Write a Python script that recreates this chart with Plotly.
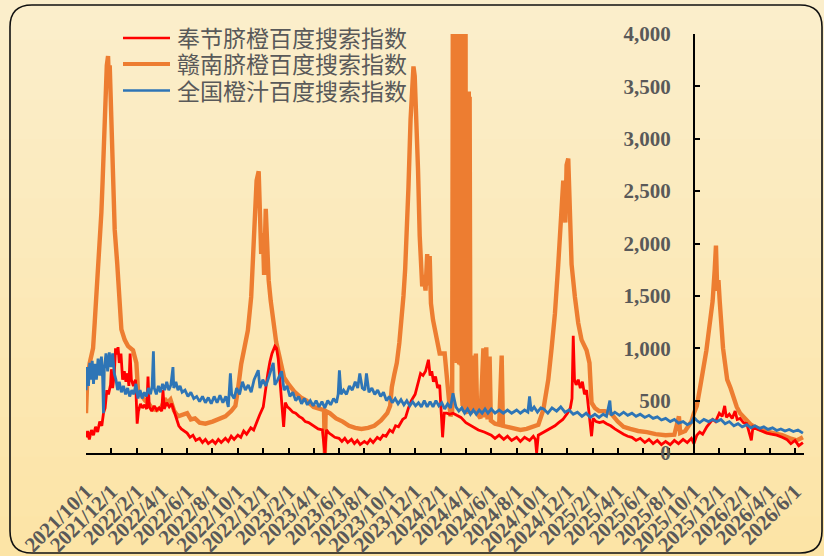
import plotly.graph_objects as go
from datetime import datetime

# ---------------- data ----------------
series_names = ["奉节脐橙百度搜索指数", "赣南脐橙百度搜索指数", "全国橙汁百度搜索指数"]
series_colors = ["#FF0000", "#ED7D31", "#2E75B6"]

fengjie = [
    ("2021-10-01", 150), ("2021-10-05", 210), ("2021-10-09", 130), ("2021-10-14", 220),
    ("2021-10-19", 170), ("2021-10-24", 250), ("2021-10-29", 200), ("2021-11-03", 300),
    ("2021-11-08", 260), ("2021-11-12", 380), ("2021-11-16", 430), ("2021-11-20", 600),
    ("2021-11-24", 560), ("2021-11-29", 650), ("2021-12-01", 800), ("2021-12-04", 620),
    ("2021-12-08", 750), ("2021-12-11", 1000), ("2021-12-14", 940), ("2021-12-17", 1010),
    ("2021-12-20", 860), ("2021-12-24", 950), ("2021-12-28", 700), ("2022-01-01", 780),
    ("2022-01-05", 680), ("2022-01-09", 760), ("2022-01-12", 640), ("2022-01-15", 950),
    ("2022-01-18", 700), ("2022-01-23", 640), ("2022-01-28", 700), ("2022-02-01", 280),
    ("2022-02-04", 400), ("2022-02-09", 470), ("2022-02-14", 430), ("2022-02-19", 460),
    ("2022-02-24", 420), ("2022-02-27", 730), ("2022-03-02", 440), ("2022-03-08", 400),
    ("2022-03-14", 450), ("2022-03-20", 410), ("2022-03-26", 430), ("2022-04-01", 400),
    ("2022-04-04", 600), ("2022-04-07", 420), ("2022-04-13", 480), ("2022-04-19", 440),
    ("2022-04-25", 470), ("2022-05-01", 400), ("2022-05-06", 330), ("2022-05-12", 260),
    ("2022-05-18", 230), ("2022-05-25", 210), ("2022-06-01", 190), ("2022-06-08", 150),
    ("2022-06-15", 170), ("2022-06-22", 120), ("2022-07-01", 140), ("2022-07-08", 100),
    ("2022-07-15", 130), ("2022-07-22", 90), ("2022-08-01", 120), ("2022-08-08", 90),
    ("2022-08-15", 130), ("2022-08-22", 100), ("2022-09-01", 140), ("2022-09-08", 110),
    ("2022-09-15", 160), ("2022-09-22", 130), ("2022-10-01", 170), ("2022-10-08", 150),
    ("2022-10-15", 210), ("2022-10-22", 180), ("2022-11-01", 240), ("2022-11-08", 220),
    ("2022-11-15", 300), ("2022-11-22", 360), ("2022-12-01", 440), ("2022-12-06", 600),
    ("2022-12-12", 760), ("2022-12-17", 870), ("2022-12-22", 950), ("2022-12-29", 1020),
    ("2023-01-02", 1000), ("2023-01-06", 900), ("2023-01-10", 720), ("2023-01-15", 500),
    ("2023-01-19", 250), ("2023-01-23", 480), ("2023-01-28", 440), ("2023-02-03", 420),
    ("2023-02-10", 390), ("2023-02-17", 380), ("2023-02-25", 350), ("2023-03-05", 330),
    ("2023-03-12", 300), ("2023-03-20", 290), ("2023-03-28", 270), ("2023-04-05", 250),
    ("2023-04-12", 230), ("2023-04-22", 220), ("2023-04-28", 0), ("2023-05-02", 220),
    ("2023-05-08", 190), ("2023-05-15", 170), ("2023-05-22", 150), ("2023-06-01", 140),
    ("2023-06-08", 110), ("2023-06-15", 140), ("2023-06-22", 100), ("2023-07-01", 130),
    ("2023-07-08", 90), ("2023-07-15", 120), ("2023-07-22", 80), ("2023-08-01", 110),
    ("2023-08-08", 90), ("2023-08-15", 130), ("2023-08-22", 100), ("2023-09-01", 150),
    ("2023-09-08", 130), ("2023-09-15", 170), ("2023-09-22", 160), ("2023-10-01", 220),
    ("2023-10-08", 200), ("2023-10-15", 260), ("2023-10-22", 250), ("2023-11-01", 320),
    ("2023-11-08", 340), ("2023-11-15", 430), ("2023-11-22", 500), ("2023-12-01", 560),
    ("2023-12-08", 680), ("2023-12-14", 760), ("2023-12-20", 740), ("2023-12-26", 780),
    ("2024-01-02", 890), ("2024-01-06", 740), ("2024-01-10", 780), ("2024-01-14", 680),
    ("2024-01-19", 730), ("2024-01-24", 620), ("2024-01-29", 650), ("2024-02-02", 400),
    ("2024-02-05", 150), ("2024-02-09", 380), ("2024-02-15", 380), ("2024-02-22", 370),
    ("2024-03-01", 380), ("2024-03-10", 360), ("2024-03-20", 340), ("2024-04-01", 290),
    ("2024-04-15", 260), ("2024-05-01", 220), ("2024-05-15", 200), ("2024-06-01", 170),
    ("2024-06-10", 140), ("2024-06-20", 170), ("2024-07-01", 130), ("2024-07-10", 160),
    ("2024-07-20", 120), ("2024-08-01", 150), ("2024-08-10", 110), ("2024-08-20", 150),
    ("2024-09-01", 120), ("2024-09-10", 160), ("2024-09-15", 130), ("2024-09-18", 0),
    ("2024-09-22", 170), ("2024-10-01", 190), ("2024-10-10", 210), ("2024-10-20", 230),
    ("2024-11-01", 260), ("2024-11-10", 290), ("2024-11-20", 320), ("2024-12-01", 380),
    ("2024-12-08", 430), ("2024-12-12", 520), ("2024-12-15", 1120), ("2024-12-18", 700),
    ("2024-12-22", 650), ("2024-12-27", 700), ("2025-01-01", 620), ("2025-01-06", 680),
    ("2025-01-11", 560), ("2025-01-16", 600), ("2025-01-22", 400), ("2025-01-28", 160),
    ("2025-02-01", 330), ("2025-02-08", 300), ("2025-02-16", 290), ("2025-02-25", 300),
    ("2025-03-05", 280), ("2025-03-15", 260), ("2025-03-25", 230), ("2025-04-05", 200),
    ("2025-04-15", 180), ("2025-04-25", 160), ("2025-05-05", 150), ("2025-05-15", 120),
    ("2025-05-25", 140), ("2025-06-05", 100), ("2025-06-15", 130), ("2025-06-25", 90),
    ("2025-07-05", 120), ("2025-07-15", 80), ("2025-07-25", 110), ("2025-08-05", 80),
    ("2025-08-15", 120), ("2025-08-25", 90), ("2025-09-05", 130), ("2025-09-15", 100),
    ("2025-09-25", 140), ("2025-10-01", 90), ("2025-10-08", 170), ("2025-10-15", 200),
    ("2025-10-22", 180), ("2025-11-01", 250), ("2025-11-08", 280), ("2025-11-15", 320),
    ("2025-11-22", 300), ("2025-12-01", 380), ("2025-12-08", 350), ("2025-12-14", 450),
    ("2025-12-18", 340), ("2025-12-25", 370), ("2026-01-01", 330), ("2026-01-08", 400),
    ("2026-01-13", 320), ("2026-01-20", 330), ("2026-01-28", 290), ("2026-02-05", 280),
    ("2026-02-16", 120), ("2026-02-20", 250), ("2026-03-01", 230), ("2026-03-12", 210),
    ("2026-03-25", 190), ("2026-04-05", 180), ("2026-04-18", 170), ("2026-05-01", 150),
    ("2026-05-12", 130), ("2026-05-22", 90), ("2026-06-01", 120), ("2026-06-10", 70),
    ("2026-06-20", 100),
]

gannan = [
    ("2021-10-01", 380), ("2021-10-04", 700), ("2021-10-10", 860), ("2021-10-14", 950),
    ("2021-10-18", 1000), ("2021-10-22", 1250), ("2021-10-26", 1500), ("2021-10-30", 1750),
    ("2021-11-03", 1970), ("2021-11-07", 2300), ("2021-11-10", 2600), ("2021-11-13", 3000),
    ("2021-11-16", 3400), ("2021-11-20", 3700), ("2021-11-23", 3790), ("2021-11-25", 3550),
    ("2021-11-27", 3700), ("2021-11-29", 3400), ("2021-12-01", 3020), ("2021-12-05", 2500),
    ("2021-12-09", 2130), ("2021-12-15", 1810), ("2021-12-21", 1490), ("2021-12-25", 1180),
    ("2022-01-02", 1080), ("2022-01-10", 1020), ("2022-01-22", 980), ("2022-01-30", 860),
    ("2022-02-03", 600), ("2022-02-12", 540), ("2022-02-20", 500), ("2022-03-01", 470),
    ("2022-03-10", 420), ("2022-03-20", 410), ("2022-04-01", 440), ("2022-04-08", 520),
    ("2022-04-15", 480), ("2022-04-22", 510), ("2022-05-01", 400), ("2022-05-10", 350),
    ("2022-05-20", 360), ("2022-06-01", 380), ("2022-06-10", 320), ("2022-06-20", 330),
    ("2022-07-01", 290), ("2022-07-15", 280), ("2022-08-01", 300), ("2022-08-15", 320),
    ("2022-09-01", 350), ("2022-09-15", 400), ("2022-09-25", 450), ("2022-10-01", 600),
    ("2022-10-09", 850), ("2022-10-17", 1010), ("2022-10-25", 1170), ("2022-11-02", 1490),
    ("2022-11-06", 1810), ("2022-11-10", 2290), ("2022-11-15", 2600), ("2022-11-20", 2690),
    ("2022-11-23", 2200), ("2022-11-26", 1900), ("2022-11-30", 2100), ("2022-12-03", 1700),
    ("2022-12-07", 2330), ("2022-12-10", 2000), ("2022-12-14", 1650), ("2022-12-19", 1450),
    ("2022-12-24", 1300), ("2023-01-01", 1060), ("2023-01-10", 900), ("2023-01-20", 720),
    ("2023-02-01", 650), ("2023-02-15", 580), ("2023-03-01", 530), ("2023-03-15", 500),
    ("2023-04-01", 440), ("2023-04-15", 420), ("2023-04-26", 410), ("2023-04-28", 0),
    ("2023-04-30", 400), ("2023-05-10", 380), ("2023-05-25", 330), ("2023-06-10", 300),
    ("2023-06-25", 260), ("2023-07-10", 240), ("2023-07-25", 230), ("2023-08-10", 240),
    ("2023-08-25", 260), ("2023-09-10", 310), ("2023-09-25", 380), ("2023-10-02", 450),
    ("2023-10-06", 630), ("2023-10-12", 750), ("2023-10-18", 860), ("2023-10-24", 1050),
    ("2023-10-30", 1270), ("2023-11-03", 1500), ("2023-11-07", 1750), ("2023-11-11", 2100),
    ("2023-11-15", 2540), ("2023-11-20", 3180), ("2023-11-24", 3550), ("2023-11-27", 3690),
    ("2023-11-30", 3600), ("2023-12-03", 3300), ("2023-12-08", 2700), ("2023-12-12", 2070),
    ("2023-12-15", 1800), ("2023-12-18", 1590), ("2023-12-22", 1700), ("2023-12-26", 1550),
    ("2023-12-30", 1900), ("2024-01-02", 1600), ("2024-01-05", 1880), ("2024-01-08", 1430),
    ("2024-01-13", 1270), ("2024-01-21", 1110), ("2024-01-29", 950), ("2024-02-10", 950),
    ("2024-02-18", 630), ("2024-02-24", 350), ("2024-02-28", 400),
    ("2024-03-01", 5200), ("2024-03-02", 920), ("2024-03-03", 5200), ("2024-03-04", 880),
    ("2024-03-05", 5200), ("2024-03-06", 950), ("2024-03-07", 5200), ("2024-03-08", 900),
    ("2024-03-09", 5200), ("2024-03-10", 860), ("2024-03-11", 5200), ("2024-03-12", 930),
    ("2024-03-13", 5200), ("2024-03-14", 890), ("2024-03-15", 5200), ("2024-03-16", 850),
    ("2024-03-17", 5200), ("2024-03-18", 870), ("2024-03-19", 5200), ("2024-03-20", 840),
    ("2024-03-21", 5200), ("2024-03-22", 600), ("2024-03-23", 5200), ("2024-03-24", 450),
    ("2024-03-25", 5200), ("2024-03-26", 420), ("2024-03-27", 5200), ("2024-03-28", 400),
    ("2024-03-29", 5200), ("2024-03-30", 430), ("2024-03-31", 5200), ("2024-04-01", 410),
    ("2024-04-02", 3450), ("2024-04-03", 390), ("2024-04-04", 3450), ("2024-04-05", 380),
    ("2024-04-06", 3450), ("2024-04-07", 400), ("2024-04-08", 3450), ("2024-04-09", 380),
    ("2024-04-10", 3400), ("2024-04-12", 380), ("2024-04-16", 400), ("2024-04-19", 930),
    ("2024-04-22", 420), ("2024-04-25", 950), ("2024-04-28", 380), ("2024-05-06", 330),
    ("2024-05-13", 1000), ("2024-05-16", 340), ("2024-05-20", 1010), ("2024-05-23", 320),
    ("2024-05-28", 920), ("2024-05-31", 310), ("2024-06-10", 280), ("2024-06-20", 270),
    ("2024-06-26", 930), ("2024-06-29", 260), ("2024-07-10", 250), ("2024-07-25", 230),
    ("2024-08-10", 220), ("2024-08-25", 230), ("2024-09-10", 250), ("2024-09-22", 270),
    ("2024-10-04", 410), ("2024-10-10", 550), ("2024-10-16", 700), ("2024-10-24", 1000),
    ("2024-11-01", 1330), ("2024-11-09", 1800), ("2024-11-15", 2290), ("2024-11-21", 2600),
    ("2024-11-26", 2200), ("2024-11-29", 2750), ("2024-12-03", 2810), ("2024-12-06", 2400),
    ("2024-12-08", 2000), ("2024-12-11", 1800), ("2024-12-19", 1490), ("2024-12-27", 1240),
    ("2025-01-04", 1080), ("2025-01-16", 980), ("2025-01-23", 860), ("2025-01-28", 480),
    ("2025-02-05", 430), ("2025-02-15", 400), ("2025-03-01", 400), ("2025-03-15", 380),
    ("2025-04-01", 300), ("2025-04-15", 250), ("2025-05-01", 230), ("2025-05-20", 210),
    ("2025-06-10", 200), ("2025-07-01", 180), ("2025-07-25", 170), ("2025-08-15", 175),
    ("2025-08-26", 350), ("2025-08-29", 190), ("2025-09-10", 210), ("2025-09-25", 300),
    ("2025-10-01", 380), ("2025-10-08", 450), ("2025-10-16", 630), ("2025-10-24", 800),
    ("2025-10-31", 980), ("2025-11-07", 1200), ("2025-11-15", 1450), ("2025-11-20", 1750),
    ("2025-11-23", 1980), ("2025-11-26", 1550), ("2025-11-29", 1650), ("2025-12-02", 1450),
    ("2025-12-06", 1200), ("2025-12-10", 1000), ("2025-12-15", 850), ("2025-12-20", 700),
    ("2025-12-28", 620), ("2026-01-05", 520), ("2026-01-12", 440), ("2026-01-20", 380),
    ("2026-02-01", 330), ("2026-02-15", 270), ("2026-03-01", 240), ("2026-03-20", 210),
    ("2026-04-10", 190), ("2026-05-01", 170), ("2026-05-20", 140), ("2026-06-05", 120),
    ("2026-06-20", 150),
]

juice = [
    ("2021-10-01", 600), ("2021-10-04", 820), ("2021-10-07", 640), ("2021-10-10", 860),
    ("2021-10-13", 700), ("2021-10-16", 880), ("2021-10-19", 660), ("2021-10-22", 850),
    ("2021-10-26", 700), ("2021-10-30", 900), ("2021-11-03", 740), ("2021-11-07", 920),
    ("2021-11-10", 720), ("2021-11-12", 380), ("2021-11-14", 800), ("2021-11-18", 950),
    ("2021-11-22", 780), ("2021-11-26", 960), ("2021-11-30", 820), ("2021-12-04", 950),
    ("2021-12-08", 760), ("2021-12-12", 700), ("2021-12-16", 600), ("2021-12-20", 680),
    ("2021-12-25", 580), ("2021-12-30", 640), ("2022-01-04", 560), ("2022-01-09", 620),
    ("2022-01-14", 540), ("2022-01-19", 600), ("2022-01-24", 560), ("2022-01-29", 660),
    ("2022-02-03", 520), ("2022-02-08", 600), ("2022-02-13", 520), ("2022-02-18", 580),
    ("2022-02-23", 540), ("2022-02-28", 620), ("2022-03-05", 560), ("2022-03-09", 640),
    ("2022-03-12", 970), ("2022-03-14", 620), ("2022-03-19", 560), ("2022-03-24", 640),
    ("2022-03-29", 580), ("2022-04-03", 660), ("2022-04-08", 600), ("2022-04-13", 680),
    ("2022-04-18", 600), ("2022-04-23", 650), ("2022-04-28", 820), ("2022-04-30", 620),
    ("2022-05-05", 680), ("2022-05-10", 600), ("2022-05-15", 640), ("2022-05-20", 580),
    ("2022-05-27", 600), ("2022-06-03", 540), ("2022-06-10", 580), ("2022-06-17", 520),
    ("2022-06-24", 540), ("2022-07-01", 490), ("2022-07-08", 540), ("2022-07-15", 480),
    ("2022-07-22", 530), ("2022-07-29", 470), ("2022-08-05", 540), ("2022-08-12", 480),
    ("2022-08-19", 550), ("2022-08-26", 480), ("2022-09-02", 540), ("2022-09-08", 440),
    ("2022-09-13", 760), ("2022-09-16", 560), ("2022-09-22", 520), ("2022-09-28", 620),
    ("2022-10-05", 560), ("2022-10-12", 680), ("2022-10-19", 600), ("2022-10-26", 650),
    ("2022-11-02", 580), ("2022-11-09", 700), ("2022-11-19", 790), ("2022-11-23", 620),
    ("2022-11-30", 700), ("2022-12-07", 640), ("2022-12-14", 720), ("2022-12-25", 860),
    ("2022-12-29", 650), ("2023-01-05", 700), ("2023-01-14", 780), ("2023-01-20", 600),
    ("2023-01-27", 640), ("2023-02-03", 540), ("2023-02-10", 580), ("2023-02-17", 500),
    ("2023-02-24", 540), ("2023-03-03", 470), ("2023-03-10", 520), ("2023-03-17", 460),
    ("2023-03-24", 500), ("2023-03-31", 450), ("2023-04-07", 500), ("2023-04-14", 440),
    ("2023-04-21", 490), ("2023-04-28", 430), ("2023-05-05", 500), ("2023-05-12", 460),
    ("2023-05-19", 520), ("2023-05-26", 480), ("2023-05-30", 560), ("2023-06-02", 790),
    ("2023-06-06", 560), ("2023-06-12", 600), ("2023-06-19", 560), ("2023-06-26", 640),
    ("2023-07-03", 600), ("2023-07-10", 680), ("2023-07-16", 620), ("2023-07-21", 760),
    ("2023-07-27", 620), ("2023-08-02", 600), ("2023-08-06", 760), ("2023-08-12", 580),
    ("2023-08-19", 620), ("2023-08-26", 560), ("2023-09-02", 600), ("2023-09-09", 540),
    ("2023-09-16", 580), ("2023-09-23", 500), ("2023-09-30", 540), ("2023-10-07", 480),
    ("2023-10-14", 520), ("2023-10-21", 470), ("2023-10-28", 510), ("2023-11-04", 460),
    ("2023-11-11", 500), ("2023-11-18", 450), ("2023-11-25", 490), ("2023-12-02", 450),
    ("2023-12-09", 480), ("2023-12-16", 440), ("2023-12-23", 500), ("2023-12-30", 440),
    ("2024-01-06", 490), ("2024-01-13", 440), ("2024-01-20", 500), ("2024-01-27", 450),
    ("2024-02-03", 480), ("2024-02-10", 420), ("2024-02-17", 470), ("2024-02-24", 430),
    ("2024-03-01", 570), ("2024-03-08", 440), ("2024-03-15", 400), ("2024-03-22", 430),
    ("2024-03-29", 380), ("2024-04-05", 420), ("2024-04-12", 370), ("2024-04-19", 410),
    ("2024-04-26", 370), ("2024-05-03", 410), ("2024-05-10", 380), ("2024-05-17", 420),
    ("2024-05-24", 380), ("2024-06-01", 420), ("2024-06-10", 380), ("2024-06-20", 410),
    ("2024-06-30", 380), ("2024-07-10", 410), ("2024-07-20", 380), ("2024-08-01", 410),
    ("2024-08-10", 380), ("2024-08-20", 410), ("2024-08-28", 390), ("2024-09-01", 540),
    ("2024-09-05", 400), ("2024-09-12", 440), ("2024-09-20", 390), ("2024-09-28", 430),
    ("2024-10-05", 420), ("2024-10-15", 380), ("2024-10-25", 430), ("2024-11-05", 400),
    ("2024-11-15", 440), ("2024-11-25", 390), ("2024-12-05", 410), ("2024-12-15", 370),
    ("2024-12-25", 390), ("2025-01-05", 350), ("2025-01-15", 380), ("2025-01-25", 340),
    ("2025-02-05", 370), ("2025-02-15", 340), ("2025-02-25", 370), ("2025-03-05", 350),
    ("2025-03-13", 500), ("2025-03-16", 360), ("2025-03-25", 390), ("2025-04-05", 360),
    ("2025-04-15", 390), ("2025-04-25", 360), ("2025-05-05", 380), ("2025-05-15", 350),
    ("2025-05-25", 370), ("2025-06-05", 340), ("2025-06-15", 360), ("2025-06-25", 330),
    ("2025-07-05", 345), ("2025-07-15", 315), ("2025-07-25", 330), ("2025-08-05", 300),
    ("2025-08-15", 320), ("2025-08-25", 285), ("2025-09-05", 300), ("2025-09-15", 270),
    ("2025-09-25", 290), ("2025-10-01", 340), ("2025-10-08", 310), ("2025-10-15", 290),
    ("2025-10-25", 320), ("2025-11-05", 300), ("2025-11-15", 320), ("2025-11-25", 300),
    ("2025-12-05", 320), ("2025-12-15", 280), ("2025-12-25", 300), ("2026-01-05", 260),
    ("2026-01-15", 280), ("2026-01-25", 250), ("2026-02-05", 270), ("2026-02-15", 240),
    ("2026-02-25", 260), ("2026-03-08", 235), ("2026-03-18", 250), ("2026-03-28", 225),
    ("2026-04-08", 240), ("2026-04-18", 215), ("2026-04-28", 230), ("2026-05-08", 210),
    ("2026-05-18", 225), ("2026-05-28", 205), ("2026-06-08", 220), ("2026-06-20", 190),
]

y_ticks = [0, 500, 1000, 1500, 2000, 2500, 3000, 3500, 4000]
x_start, x_end = "2021-10-01", "2026-06-22 14:00"
y_axis_cross_date = "2025-10-01"

# ---------------- layout geometry (pixels) ----------------
W, H = 824, 556
L, R, T, B = 86, 20, 34, 103
PW, PH = W - L - R, H - T - B


def px(x):
    return (x - L) / PW


def py(y):
    return (H - B - y) / PH


fig = go.Figure()
all_series = [fengjie, gannan, juice]
widths = [2.8, 4.4, 2.8]
# draw order: orange, red, blue
for idx in [1, 0, 2]:
    d, v = zip(*all_series[idx])
    fig.add_trace(go.Scatter(
        x=list(d), y=list(v), mode="lines", name=series_names[idx],
        line=dict(color=series_colors[idx], width=widths[idx]),
        showlegend=False, hoverinfo="skip",
    ))

shapes = []
# background vertical gradient bands
top_c = (251, 238, 203)
bot_c = (252, 228, 166)
nb = 28
for i in range(nb):
    f = i / (nb - 1)
    c = tuple(round(top_c[k] + (bot_c[k] - top_c[k]) * f) for k in range(3))
    y0 = i * H / nb
    y1 = (i + 1) * H / nb + 1
    shapes.append(dict(type="rect", xref="paper", yref="paper", layer="below",
                       x0=px(0), x1=px(W), y0=py(y1), y1=py(y0),
                       line=dict(width=0), fillcolor="rgb(%d,%d,%d)" % c))

# rounded border
bl, br, bt, bb, rr = 10, 822, 5, 553, 22
path = (f"M {px(bl+rr)},{py(bt)} L {px(br-rr)},{py(bt)} Q {px(br)},{py(bt)} {px(br)},{py(bt+rr)} "
        f"L {px(br)},{py(bb-rr)} Q {px(br)},{py(bb)} {px(br-rr)},{py(bb)} "
        f"L {px(bl+rr)},{py(bb)} Q {px(bl)},{py(bb)} {px(bl)},{py(bb-rr)} "
        f"L {px(bl)},{py(bt+rr)} Q {px(bl)},{py(bt)} {px(bl+rr)},{py(bt)} Z")
shapes.append(dict(type="path", xref="paper", yref="paper", path=path, layer="below",
                   line=dict(color="#111111", width=1.6)))

# legend (manual, to match the compact row spacing)
leg_rows = [38, 64, 90.5]
leg_w = [2.6, 4.2, 2.6]
annotations = []
for i in range(3):
    shapes.append(dict(type="line", xref="paper", yref="paper",
                       x0=px(123), x1=px(170), y0=py(leg_rows[i]), y1=py(leg_rows[i]),
                       line=dict(color=series_colors[i], width=leg_w[i])))
    annotations.append(dict(xref="paper", yref="paper", x=px(175), y=py(leg_rows[i] - 1),
                            xanchor="left", yanchor="middle", showarrow=False,
                            text=series_names[i],
                            font=dict(family="Noto Sans CJK SC", size=23, color="#595959")))

d0 = datetime.fromisoformat(x_start)
d1 = datetime.fromisoformat(x_end)
dc = datetime.fromisoformat(y_axis_cross_date)
ypos = (dc - d0).total_seconds() / (d1 - d0).total_seconds()

tickfont = dict(family="Liberation Serif", size=21, color="#595959", weight="bold")

fig.update_layout(
    width=W, height=H,
    margin=dict(l=L, r=R, t=T, b=B, pad=0),
    paper_bgcolor="rgb(251,236,196)",
    plot_bgcolor="rgba(0,0,0,0)",
    shapes=shapes, annotations=annotations,
    showlegend=False,
    xaxis=dict(
        type="date", range=[x_start, x_end],
        tick0="2021-10-01", dtick="M2", tickformat="%Y/%-m/%-d",
        tickangle=-45, tickfont=dict(family="Liberation Serif", size=21, color="#595959", weight="bold"),
        ticks="inside", ticklen=5, tickwidth=2, tickcolor="black",
        showline=True, linecolor="black", linewidth=2,
        showgrid=False, zeroline=False, automargin=False,
        ticklabelstandoff=16,
    ),
    yaxis=dict(
        range=[0, 4000], tickvals=y_ticks, tickformat=",",
        anchor="free", position=ypos, side="left",
        tickfont=tickfont,
        ticks="inside", ticklen=5, tickwidth=2, tickcolor="black",
        showline=True, linecolor="black", linewidth=2,
        showgrid=False, zeroline=False, automargin=False,
        ticklabelstandoff=18,
    ),
)

fig.write_html(
    "out.html",
    config={"displayModeBar": False},
    post_script="document.body.style.margin='0px';document.body.style.overflow='hidden';"
                "document.body.style.background='rgb(251,236,196)';",
)
